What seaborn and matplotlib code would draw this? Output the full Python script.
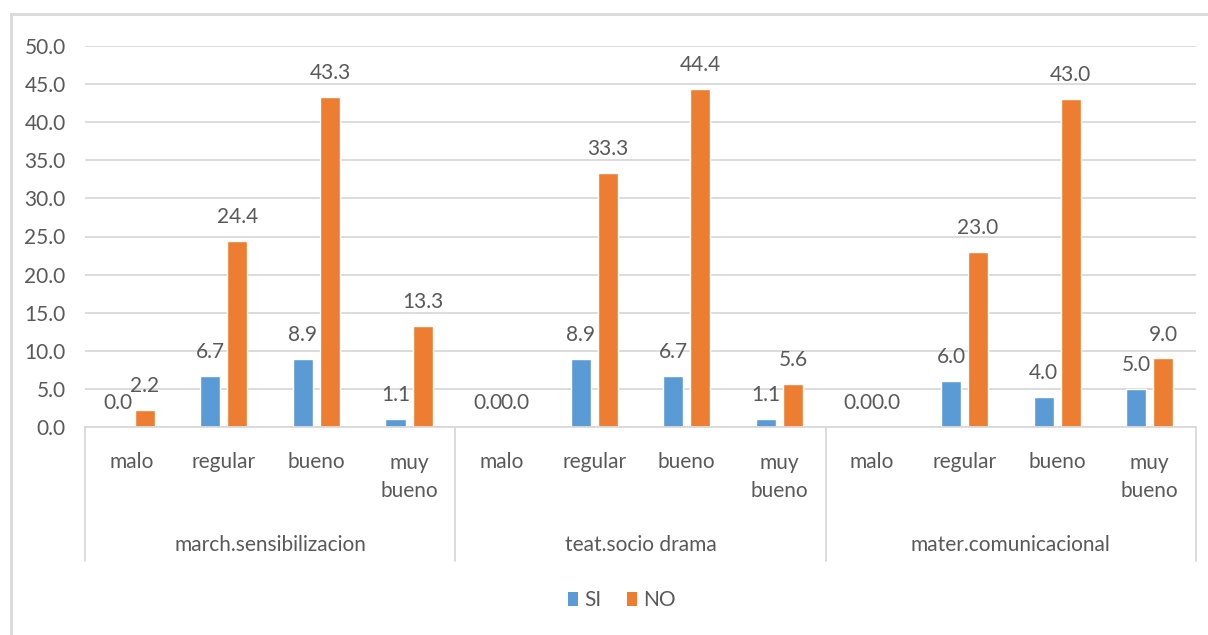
import matplotlib
matplotlib.use("Agg")
import matplotlib.pyplot as plt
import matplotlib.transforms as mtransforms
from matplotlib.lines import Line2D
from matplotlib.patches import Patch
import seaborn as sns
import pandas as pd

# ---- data -------------------------------------------------------------
groups = ["march.sensibilizacion", "teat.socio drama", "mater.comunicacional"]
levels = ["malo", "regular", "bueno", "muy bueno"]
series = ["SI", "NO"]
si_values = [0.0, 6.7, 8.9, 1.1, 0.0, 8.9, 6.7, 1.1, 0.0, 6.0, 4.0, 5.0]
no_values = [2.2, 24.4, 43.3, 13.3, 0.0, 33.3, 44.4, 5.6, 0.0, 23.0, 43.0, 9.0]
y_ticks = [0, 5, 10, 15, 20, 25, 30, 35, 40, 45, 50]

colors = {"SI": "#5B9BD5", "NO": "#ED7D31"}
text_color = "#595959"
line_color = "#D9D9D9"

# ---- long table -------------------------------------------------------
keys = [f"{g}|{lv}" for g in groups for lv in levels]
rows = []
for k, s, n in zip(keys, si_values, no_values):
    rows.append({"key": k, "serie": "SI", "valor": s})
    rows.append({"key": k, "serie": "NO", "valor": n})
df = pd.DataFrame(rows)

# ---- figure -----------------------------------------------------------
sns.set_theme(style="white")
plt.rcParams["font.family"] = ["Liberation Sans Narrow", "Lato", "DejaVu Sans"]
FS = 15

W, H = 1208, 635
fig = plt.figure(figsize=(W / 100, H / 100), dpi=100)
left, right, top, bottom = 85, 1196, 46, 427
ax = fig.add_axes([left / W, 1 - bottom / H, (right - left) / W, (bottom - top) / H])

sns.barplot(data=df, x="key", y="valor", hue="serie", order=keys,
            hue_order=series, palette=colors, width=0.585, gap=0.26,
            saturation=1, ax=ax, legend=False, errorbar=None)

ax.set_xlim(-0.5, len(keys) - 0.5)
ax.set_ylim(0, 50)
ax.set_yticks(y_ticks)
ax.set_yticklabels([f"{v:.1f}" for v in y_ticks], color=text_color, fontsize=FS)
ax.tick_params(axis="y", length=0, pad=14)
ax.set_xticks([])
ax.set_xlabel("")
ax.set_ylabel("")
ax.yaxis.grid(True, color=line_color, linewidth=1.3)
ax.set_axisbelow(True)
for side in ["top", "right", "left"]:
    ax.spines[side].set_visible(False)
ax.spines["bottom"].set_color(line_color)
ax.spines["bottom"].set_linewidth(1.3)

# value labels above each bar
for cont in ax.containers:
    ax.bar_label(cont, fmt="%.1f", padding=10, color=text_color, fontsize=FS)

# multi-level category axis
trans = mtransforms.blended_transform_factory(ax.transData, ax.transAxes)
px = 1.0 / (bottom - top)  # one pixel in axes units
sep_bottom = -(561 - bottom) * px
for xs in [-0.5, 3.5, 7.5, 11.5]:
    ax.add_line(Line2D([xs, xs], [0, sep_bottom], transform=trans,
                       color=line_color, linewidth=1.3, clip_on=False))
for i, k in enumerate(keys):
    lv = k.split("|")[1]
    if " " in lv:
        label = lv.replace(" ", "\n")
        yc = -(477 - bottom) * px
    else:
        label = lv
        yc = -(462 - bottom) * px
    ax.text(i, yc, label, transform=trans, ha="center", va="center",
            color=text_color, fontsize=FS, linespacing=1.45)
for gi, g in enumerate(groups):
    ax.text(gi * 4 + 1.5, -(545 - bottom) * px, g, transform=trans,
            ha="center", va="center", color=text_color, fontsize=FS)

# legend
handles = [Patch(facecolor=colors[s], edgecolor="none", label=s) for s in series]
fig.legend(handles=handles, loc="center", bbox_to_anchor=(0.515, 1 - 600 / H),
           ncol=2, frameon=False, fontsize=FS, handlelength=0.5,
           handleheight=0.65, handletextpad=0.3, columnspacing=1.2,
           labelcolor=text_color)

# chart frame
fx = 11 / W
fy = 1 - 14 / H
fig.add_artist(Line2D([fx, fx], [0, fy], transform=fig.transFigure,
                      color=line_color, linewidth=2))
fig.add_artist(Line2D([fx, 1], [fy, fy], transform=fig.transFigure,
                      color=line_color, linewidth=2))

fig.savefig("out.png", dpi=100, facecolor="white")
